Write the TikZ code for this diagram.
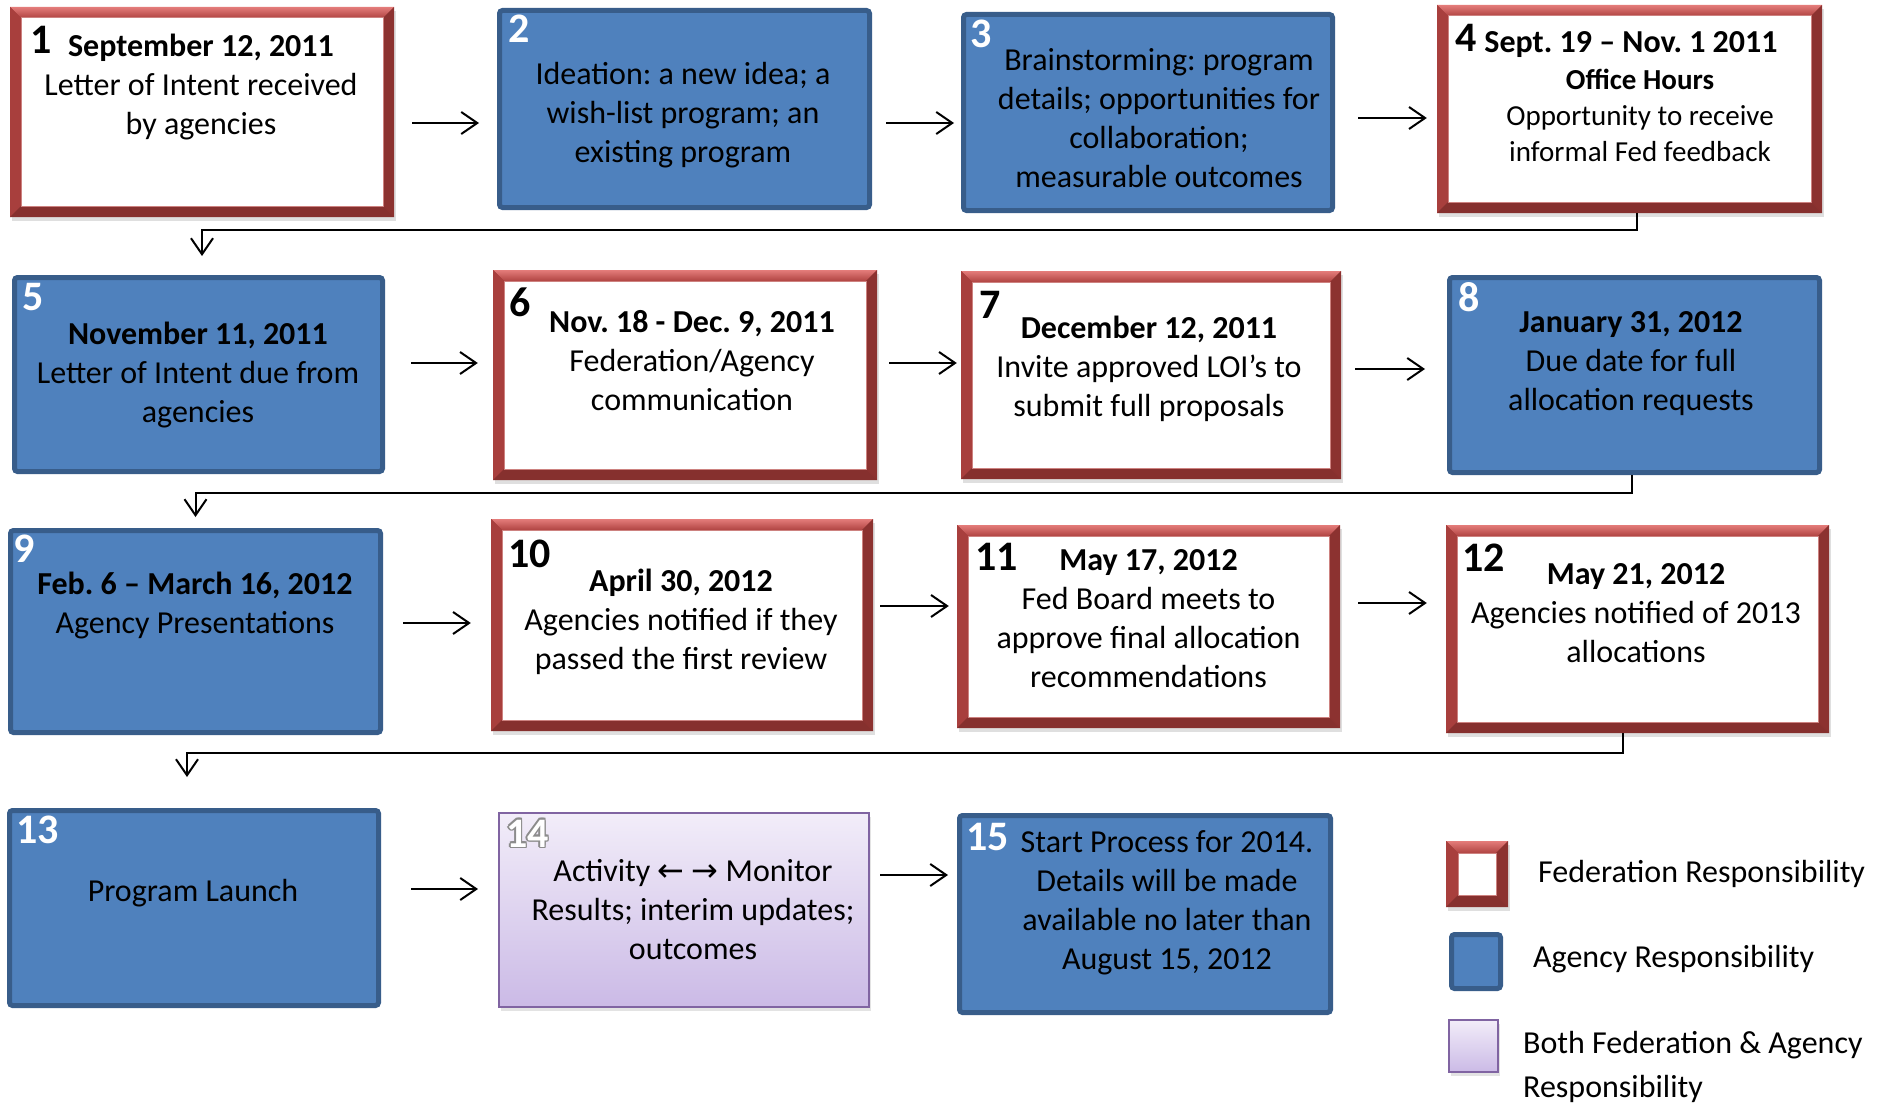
\documentclass[tikz,border=0pt]{standalone}
\usepackage{fontspec}
\setmainfont{Carlito}
\newfontfamily\symf{DejaVu Sans}
\usetikzlibrary{arrows.meta,shadows}
\frenchspacing

\definecolor{fedbase}{RGB}{160,60,58}
\definecolor{fedtopl}{RGB}{228,124,122}
\definecolor{fedtopd}{RGB}{176,68,66}
\definecolor{fedleft}{RGB}{168,63,61}
\definecolor{fedright}{RGB}{140,50,48}
\definecolor{fedbot}{RGB}{134,48,46}
\definecolor{fedinner}{RGB}{205,130,128}
\definecolor{agblue}{RGB}{79,129,189}
\definecolor{agedge}{RGB}{56,93,138}
\definecolor{bothtop}{RGB}{242,237,249}
\definecolor{bothbot}{RGB}{203,186,230}
\definecolor{bothedge}{RGB}{128,100,162}

\newcommand\lines[1]{\begin{tabular}[t]{@{}c@{}}#1\end{tabular}}
\newcommand\llines[1]{\begin{tabular}[t]{@{}l@{}}#1\end{tabular}}
\newcommand\olcopy[3]{\rlap{\kern#1\raisebox{#2}{\textcolor{black!45}{#3}}}}
\newcommand\outlined[1]{\olcopy{1.5pt}{0pt}{#1}\olcopy{-1.5pt}{0pt}{#1}\olcopy{0pt}{1.5pt}{#1}\olcopy{0pt}{-1.5pt}{#1}\olcopy{1.1pt}{1.1pt}{#1}\olcopy{-1.1pt}{1.1pt}{#1}\olcopy{1.1pt}{-1.1pt}{#1}\olcopy{-1.1pt}{-1.1pt}{#1}\textcolor{white}{#1}}

\newcommand\fedbevel[1]{%
  \path (path picture bounding box.north west) coordinate (pNW)
        (path picture bounding box.north east) coordinate (pNE)
        (path picture bounding box.south west) coordinate (pSW)
        (path picture bounding box.south east) coordinate (pSE)
        ([shift={(#1,-#1)}]path picture bounding box.north west) coordinate (iNW)
        ([shift={(-#1,-#1)}]path picture bounding box.north east) coordinate (iNE)
        ([shift={(#1,#1)}]path picture bounding box.south west) coordinate (iSW)
        ([shift={(-#1,#1)}]path picture bounding box.south east) coordinate (iSE);
  \shade[top color=fedtopl, bottom color=fedtopd] (pNW) -- (pNE) -- (iNE) -- (iNW) -- cycle;
  \fill[fedleft] (pNW) -- (iNW) -- (iSW) -- (pSW) -- cycle;
  \fill[fedright] (pNE) -- (pSE) -- (iSE) -- (iNE) -- cycle;
  \fill[fedbot] (pSW) -- (iSW) -- (iSE) -- (pSE) -- cycle;
  \fill[white] (iNW) rectangle (iSE);
  \draw[fedinner, line width=1pt] (iNW) rectangle (iSE);
}

\tikzset{
  fedbox/.style={rectangle, inner sep=0pt, fill=fedbase,
    drop shadow={opacity=0.25, shadow xshift=2pt, shadow yshift=-4pt},
    path picture={\fedbevel{#1}}},
  fedbox/.default=11pt,
  agbox/.style={rectangle, inner sep=0pt, fill=agblue, draw=agedge, line width=5pt, rounded corners=3pt},
  bothbox/.style={rectangle, inner sep=0pt, top color=bothtop, bottom color=bothbot,
    draw=bothedge, line width=2pt,
    drop shadow={opacity=0.22, shadow xshift=2pt, shadow yshift=-4pt}},
  txt/.style={inner sep=0pt, anchor=base, font=\fontsize{32}{39}\selectfont},
  smalltxt/.style={inner sep=0pt, anchor=base, font=\fontsize{29}{36}\selectfont},
  legtxt/.style={inner sep=0pt, anchor=base west, font=\fontsize{32}{44}\selectfont},
  numk/.style={inner sep=0pt, anchor=base west, font=\bfseries\fontsize{42}{42}\selectfont},
  numw/.style={numk, text=white},
  arr/.style={line width=2pt, -{Straight Barb[length=16pt,width=22pt]}},
}

\newcommand\flow[5]{\draw[arr, shorten <=#3pt, shorten >=#4pt] (#1.east |- 0,#5) -- (#2.west |- 0,#5);}

\begin{document}
\begin{tikzpicture}[x=1pt,y=-1pt]
\useasboundingbox (0,0) rectangle (1883,1105);
\fill[white] (0,0) rectangle (1883,1105);

% ---- boxes ----
\node[fedbox, minimum width=384, minimum height=210] (b1) at (202,112) {};
\node[agbox, minimum width=370, minimum height=197] (b2) at (684.5,109) {};
\node[agbox, minimum width=369, minimum height=196] (b3) at (1148,112.5) {};
\node[fedbox, minimum width=385, minimum height=208] (b4) at (1629.5,109) {};

\node[agbox, minimum width=368, minimum height=194] (b5) at (198.5,374.5) {};
\node[fedbox, minimum width=384, minimum height=210] (b6) at (685,375) {};
\node[fedbox, minimum width=380, minimum height=208] (b7) at (1151,375) {};
\node[agbox, minimum width=370, minimum height=195] (b8) at (1634.5,375) {};

\node[agbox, minimum width=370, minimum height=202] (b9) at (195.5,631.5) {};
\node[fedbox, minimum width=382, minimum height=212] (b10) at (682,625) {};
\node[fedbox, minimum width=383, minimum height=203] (b11) at (1148.5,626.5) {};
\node[fedbox, minimum width=383, minimum height=208] (b12) at (1637.5,629) {};

\node[agbox, minimum width=369, minimum height=195] (b13) at (194,908) {};
\node[bothbox, minimum width=370, minimum height=194] (b14) at (684,910) {};
\node[agbox, minimum width=371, minimum height=197] (b15) at (1145,914) {};

% ---- numbers ----
\node[numk] (n1) at (30,54) {1};
\node[numw] (n2) at (508,43) {2};
\node[numw] (n3) at (970,48) {3};
\node[numk] (n4) at (1455,52) {4};
\node[numw] (n5) at (22,310) {5};
\node[numk] (n6) at (509,316) {6};
\node[numk] (n7) at (979,318) {7};
\node[numw] (n8) at (1458,311) {8};
\node[numw] (n9) at (13,562) {9};
\node[numk] (n10) at (508,567) {10};
\node[numk] (n11) at (975,570) {11};
\node[numk] (n12) at (1462,571) {12};
\node[numw] (n13) at (16,843) {13};
\node[numk] (n14) at (506,847) {\outlined{14}};
\node[numw] (n15) at (966,850) {15};

% ---- texts ----
\node[txt] (t1) at (201,57) {\lines{\textbf{September 12, 2011}\\Letter of Intent received\\by agencies}};
\node[txt] (t2) at (683,85) {\lines{Ideation: a new idea; a\\wish-list program; an\\existing program}};
\node[txt] (t3) at (1159,71) {\lines{Brainstorming: program\\details; opportunities for\\collaboration;\\measurable outcomes}};
\node[txt] (t4h) at (1631,53) {\textbf{Sept. 19 – Nov. 1 2011}};
\node[smalltxt] (t4) at (1640,90) {\lines{\textbf{Office Hours}\\Opportunity to receive\\informal Fed feedback}};

\node[txt] (t5) at (198,344) {\lines{\textbf{November 11, 2011}\\Letter of Intent due from\\agencies}};
\node[txt] (t6) at (692,332) {\lines{\textbf{Nov. 18 - Dec. 9, 2011}\\Federation/Agency\\communication}};
\node[txt] (t7) at (1149,338) {\lines{\textbf{December 12, 2011}\\Invite approved LOI’s to\\submit full proposals}};
\node[txt] (t8) at (1631,332) {\lines{\textbf{January 31, 2012}\\Due date for full\\allocation requests}};

\node[txt] (t9) at (195,594) {\lines{\textbf{Feb. 6 – March 16, 2012}\\Agency Presentations}};
\node[txt] (t10) at (681,591) {\lines{\textbf{April 30, 2012}\\Agencies notified if they\\passed the first review}};
\node[txt] (t11) at (1148.5,570) {\lines{\textbf{May 17, 2012}\\Fed Board meets to\\approve final allocation\\recommendations}};
\node[txt] (t12) at (1636,584) {\lines{\textbf{May 21, 2012}\\Agencies notified of 2013\\allocations}};

\node[txt] (t13) at (193,901) {Program Launch};
\node[txt] (t14) at (693,881) {\lines{Activity {\symf ←} {\symf →} Monitor\\Results; interim updates;\\outcomes}};
\node[txt] (t15) at (1167,852) {\lines{Start Process for 2014.\\Details will be made\\available no later than\\August 15, 2012}};

% ---- arrows within rows ----
\flow{b1}{b2}{18}{18}{123}
\flow{b2}{b3}{14}{7}{123}
\flow{b3}{b4}{23}{10}{118}
\flow{b5}{b6}{26}{15}{363}
\flow{b6}{b7}{12}{4}{363}
\flow{b7}{b8}{14}{22}{369}
\flow{b9}{b10}{20}{20}{623}
\flow{b10}{b11}{7}{8}{606}
\flow{b11}{b12}{18}{19}{603}
\flow{b13}{b14}{30}{20}{889}
\flow{b14}{b15}{10}{9}{875}

% ---- row-wrap connectors ----
\draw[arr, shorten >=19pt] ([xshift=7.5pt]b4.south) -- ++(0,17) -| ([xshift=3.5pt]b5.north);
\draw[arr, shorten >=11pt] ([xshift=-2.5pt]b8.south) -- ++(0,18) -| (b9.north);
\draw[arr, shorten >=31pt] ([xshift=-14.5pt]b12.south) -- ++(0,20) -| ([xshift=-7pt]b13.north);

% ---- legend ----
\node[fedbox=12pt, minimum width=62, minimum height=66] (L1) at (1477,874) {};
\node[agbox, minimum width=49, minimum height=54] (L2) at (1476,961.5) {};
\node[bothbox, minimum width=49, minimum height=52] (L3) at (1473.5,1046) {};
\node[legtxt] (l1) at (1538,882) {Federation Responsibility};
\node[legtxt] (l2) at (1533,967) {Agency Responsibility};
\node[legtxt] (l3) at (1523,1053) {\llines{Both Federation \& Agency\\Responsibility}};
\end{tikzpicture}
\end{document}
